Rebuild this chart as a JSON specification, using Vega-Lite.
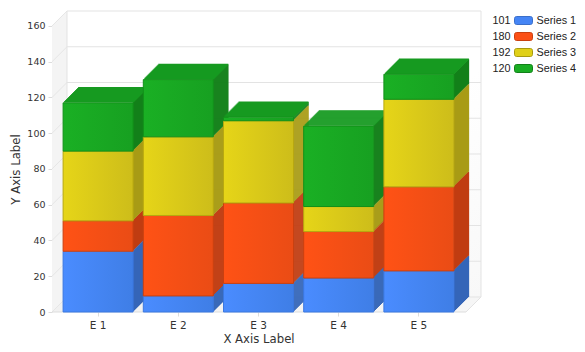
{"$schema":"https://vega.github.io/schema/vega-lite/v6.json","background":"white","padding":{"left":10,"top":10,"right":0,"bottom":0},"bounds":"flush","spacing":13,"resolve":{"scale":{"color":"independent","stroke":"independent","x":"independent","y":"independent"}},"config":{"view":{"stroke":null}},"datasets":{"bars":[
{"cat":"E 1","series":"Series 1","value":34},{"cat":"E 1","series":"Series 2","value":17},{"cat":"E 1","series":"Series 3","value":39},{"cat":"E 1","series":"Series 4","value":27},
{"cat":"E 2","series":"Series 1","value":9},{"cat":"E 2","series":"Series 2","value":45},{"cat":"E 2","series":"Series 3","value":44},{"cat":"E 2","series":"Series 4","value":32},
{"cat":"E 3","series":"Series 1","value":16},{"cat":"E 3","series":"Series 2","value":45},{"cat":"E 3","series":"Series 3","value":46},{"cat":"E 3","series":"Series 4","value":2},
{"cat":"E 4","series":"Series 1","value":19},{"cat":"E 4","series":"Series 2","value":26},{"cat":"E 4","series":"Series 3","value":14},{"cat":"E 4","series":"Series 4","value":45},
{"cat":"E 5","series":"Series 1","value":23},{"cat":"E 5","series":"Series 2","value":47},{"cat":"E 5","series":"Series 3","value":49},{"cat":"E 5","series":"Series 4","value":14}],
"grid":[{"tick":0,"back":8.39},{"tick":20,"back":28.39},{"tick":40,"back":48.39},{"tick":60,"back":68.39},{"tick":80,"back":88.39},{"tick":100,"back":108.39},{"tick":120,"back":128.39},{"tick":140,"back":148.39},{"tick":160,"back":168.39}]},
"hconcat":[{"width":429,"height":301,"resolve":{"scale":{"x":"independent"},"axis":{"y":"independent"}},"layer":[
{"resolve":{"axis":{"y":"independent"}},"layer":[
{"data":{"values":[{"d":0,"low":0,"high":160},{"d":15,"low":8.39,"high":168.39}]},"mark":{"type":"area","color":"#f4f4f4"},"encoding":{"x":{"field":"d","type":"quantitative","scale":{"domain":[0,429],"range":[0,429],"nice":false,"zero":false},"axis":null},"y":{"field":"low","type":"quantitative","scale":{"domain":[0,168.39],"nice":false},"axis":{"title":"Y Axis Label","titleFont":"DejaVu Sans","titleFontSize":11.7,"titleFontWeight":"normal","titleColor":"#333333","titleX":-31,"titleY":158,"values":[0,20,40,60,80,100,120,140,160],"labelFont":"DejaVu Sans","labelFontSize":9.5,"labelColor":"#333333","labelPadding":3,"tickColor":"#dddddd","tickSize":4,"domain":false,"grid":false}},"y2":{"field":"high"}}},
{"data":{"values":[{"b":0,"l":0,"r":414},{"b":8.39,"l":15,"r":429}]},"mark":{"type":"area","orient":"horizontal","color":{"x1":0,"x2":1,"y1":0,"y2":0,"gradient":"linear","stops":[{"offset":0,"color":"#f1f1f1"},{"offset":1,"color":"#f6f6f6"}]}},"encoding":{"y":{"field":"b","type":"quantitative","axis":null},"x":{"field":"l","type":"quantitative","axis":null},"x2":{"field":"r"}}},
{"data":{"values":[{"a":15,"b":429}]},"mark":{"type":"rect","color":{"x1":0,"x2":1,"y1":0,"y2":1,"gradient":"linear","stops":[{"offset":0,"color":"#ffffff"},{"offset":0.6,"color":"#ffffff"},{"offset":1,"color":"#f8f8f8"}]}},"encoding":{"x":{"field":"a","type":"quantitative","axis":null},"x2":{"field":"b"},"y":{"datum":8.39,"type":"quantitative","axis":null},"y2":{"datum":168.39}}},
{"data":{"name":"grid"},"mark":{"type":"rule","color":"#e3e3e3"},"encoding":{"x":{"datum":15,"type":"quantitative","axis":null},"x2":{"datum":429},"y":{"field":"back","type":"quantitative","axis":null}}},
{"data":{"name":"grid"},"mark":{"type":"rule","color":"#e6e6e6"},"encoding":{"x":{"datum":0,"type":"quantitative","axis":null},"x2":{"datum":15},"y":{"field":"tick","type":"quantitative","axis":null},"y2":{"field":"back"}}},
{"data":{"values":[{"a":15},{"a":429}]},"mark":{"type":"rule","color":"#e3e3e3"},"encoding":{"x":{"field":"a","type":"quantitative","axis":null},"y":{"datum":8.39,"type":"quantitative","axis":null},"y2":{"datum":168.39}}},
{"data":{"values":[{"a":414,"b":429,"u":0,"v":8.39}]},"mark":{"type":"rule","color":"#e3e3e3"},"encoding":{"x":{"field":"a","type":"quantitative","axis":null},"x2":{"field":"b"},"y":{"field":"u","type":"quantitative","axis":null},"y2":{"field":"v"}}},
{"data":{"values":[{"a":0,"b":414}]},"mark":{"type":"rule","color":"#dddddd"},"encoding":{"x":{"field":"a","type":"quantitative","axis":null},"x2":{"field":"b"},"y":{"datum":0,"type":"quantitative","axis":null}}}
]},
{"data":{"name":"bars"},"transform":[{"stack":"value","groupby":["cat"],"sort":[{"field":"series"}],"as":["y0","y1"]}],
"encoding":{"x":{"field":"cat","type":"nominal","sort":null,"scale":{"domain":["E 1","E 2","E 3","E 4","E 5"],"range":[6,407],"paddingInner":0,"paddingOuter":0},"axis":{"title":"X Axis Label","titleFont":"DejaVu Sans","titleFontSize":11.7,"titleFontWeight":"normal","titleColor":"#333333","titlePadding":3,"labelAngle":0,"labelFont":"DejaVu Sans","labelFontSize":10.5,"labelColor":"#333333","labelPadding":4,"tickColor":"#dddddd","tickSize":4,"domain":false,"grid":false}},"y":{"field":"y0","type":"quantitative","axis":null},"y2":{"field":"y1"}},
"layer":[
{"data":{"values":[{"cat":"E 1"},{"cat":"E 2"},{"cat":"E 3"},{"cat":"E 4"},{"cat":"E 5"}]},"transform":[],"mark":{"type":"rule","color":"#e3e3e3","xOffset":15,"x2Offset":15},"encoding":{"y":{"datum":8.39,"type":"quantitative","axis":null},"y2":{"datum":168.39}}},
{"layer":[
{"mark":{"type":"bar","width":1.5,"xOffset":35.5,"yOffset":-1,"y2Offset":-1}},{"mark":{"type":"bar","width":1.5,"xOffset":36.5,"yOffset":-2,"y2Offset":-2}},{"mark":{"type":"bar","width":1.5,"xOffset":37.5,"yOffset":-3,"y2Offset":-3}},{"mark":{"type":"bar","width":1.5,"xOffset":38.5,"yOffset":-4,"y2Offset":-4}},{"mark":{"type":"bar","width":1.5,"xOffset":39.5,"yOffset":-5,"y2Offset":-5}},{"mark":{"type":"bar","width":1.5,"xOffset":40.5,"yOffset":-6,"y2Offset":-6}},{"mark":{"type":"bar","width":1.5,"xOffset":41.5,"yOffset":-7,"y2Offset":-7}},{"mark":{"type":"bar","width":1.5,"xOffset":42.5,"yOffset":-8,"y2Offset":-8}},{"mark":{"type":"bar","width":1.5,"xOffset":43.5,"yOffset":-9,"y2Offset":-9}},{"mark":{"type":"bar","width":1.5,"xOffset":44.5,"yOffset":-10,"y2Offset":-10}},{"mark":{"type":"bar","width":1.5,"xOffset":45.5,"yOffset":-11,"y2Offset":-11}},{"mark":{"type":"bar","width":1.5,"xOffset":46.5,"yOffset":-12,"y2Offset":-12}},{"mark":{"type":"bar","width":1.5,"xOffset":47.5,"yOffset":-13,"y2Offset":-13}},{"mark":{"type":"bar","width":1.5,"xOffset":48.5,"yOffset":-14,"y2Offset":-14}},{"mark":{"type":"bar","width":1.5,"xOffset":49.5,"yOffset":-15,"y2Offset":-15}}
],"encoding":{"color":{"field":"series","type":"nominal","legend":null,"scale":{"domain":["Series 1","Series 2","Series 3","Series 4"],"range":["#3566b8","#c03d12","#a89c16","#13801a"]}}}},
{"transform":[{"filter":"datum.series === 'Series 4'"}],"encoding":{"y":{"field":"y1","type":"quantitative","axis":null},"y2":null},"layer":[
{"mark":{"type":"tick","size":70,"thickness":1.5,"color":"#169a20","opacity":1,"xOffset":1,"yOffset":-1}},{"mark":{"type":"tick","size":70,"thickness":1.5,"color":"#169a20","opacity":1,"xOffset":2,"yOffset":-2}},{"mark":{"type":"tick","size":70,"thickness":1.5,"color":"#169a20","opacity":1,"xOffset":3,"yOffset":-3}},{"mark":{"type":"tick","size":70,"thickness":1.5,"color":"#169a20","opacity":1,"xOffset":4,"yOffset":-4}},{"mark":{"type":"tick","size":70,"thickness":1.5,"color":"#169a20","opacity":1,"xOffset":5,"yOffset":-5}},{"mark":{"type":"tick","size":70,"thickness":1.5,"color":"#169a20","opacity":1,"xOffset":6,"yOffset":-6}},{"mark":{"type":"tick","size":70,"thickness":1.5,"color":"#169a20","opacity":1,"xOffset":7,"yOffset":-7}},{"mark":{"type":"tick","size":70,"thickness":1.5,"color":"#169a20","opacity":1,"xOffset":8,"yOffset":-8}},{"mark":{"type":"tick","size":70,"thickness":1.5,"color":"#169a20","opacity":1,"xOffset":9,"yOffset":-9}},{"mark":{"type":"tick","size":70,"thickness":1.5,"color":"#169a20","opacity":1,"xOffset":10,"yOffset":-10}},{"mark":{"type":"tick","size":70,"thickness":1.5,"color":"#169a20","opacity":1,"xOffset":11,"yOffset":-11}},{"mark":{"type":"tick","size":70,"thickness":1.5,"color":"#169a20","opacity":1,"xOffset":12,"yOffset":-12}},{"mark":{"type":"tick","size":70,"thickness":1.5,"color":"#169a20","opacity":1,"xOffset":13,"yOffset":-13}},{"mark":{"type":"tick","size":70,"thickness":1.5,"color":"#169a20","opacity":1,"xOffset":14,"yOffset":-14}},{"mark":{"type":"tick","size":70,"thickness":1.5,"color":"#169a20","opacity":1,"xOffset":15,"yOffset":-15}}
]},
{"transform":[{"filter":"datum.series === 'Series 1'"}],"mark":{"type":"bar","width":70,"stroke":"#3b78e0","strokeWidth":1,"color":{"x1":0,"x2":1,"y1":0,"y2":0,"gradient":"linear","stops":[{"offset":0,"color":"#4a8cff"},{"offset":1,"color":"#3f7ee6"}]}}},
{"transform":[{"filter":"datum.series === 'Series 2'"}],"mark":{"type":"bar","width":70,"stroke":"#c94010","strokeWidth":1,"color":{"x1":0,"x2":1,"y1":0,"y2":0,"gradient":"linear","stops":[{"offset":0,"color":"#ff5215"},{"offset":1,"color":"#ea4c15"}]}}},
{"transform":[{"filter":"datum.series === 'Series 3'"}],"mark":{"type":"bar","width":70,"stroke":"#b8a810","strokeWidth":1,"color":{"x1":0,"x2":1,"y1":0,"y2":0,"gradient":"linear","stops":[{"offset":0,"color":"#e6d518"},{"offset":1,"color":"#cdbd1a"}]}}},
{"transform":[{"filter":"datum.series === 'Series 4'"}],"mark":{"type":"bar","width":70,"stroke":"#129019","strokeWidth":1,"color":{"x1":0,"x2":1,"y1":0,"y2":0,"gradient":"linear","stops":[{"offset":0,"color":"#1ab024"},{"offset":1,"color":"#17a021"}]}}}
]}
]},
{"width":85,"height":70,"data":{"name":"bars"},"transform":[{"aggregate":[{"op":"sum","field":"value","as":"total"}],"groupby":["series"]}],
"encoding":{"y":{"field":"series","type":"nominal","axis":null,"scale":{"type":"point","padding":0,"domain":["Series 1","Series 2","Series 3","Series 4"],"range":[9.5,57.5]}}},
"layer":[
{"mark":{"type":"text","align":"right","font":"Liberation Sans","fontSize":10.8,"color":"#222222"},"encoding":{"x":{"datum":"total","type":"nominal","axis":null,"scale":{"type":"point","padding":0,"domain":["total","swatch","name"],"range":[16.5,42.5]}},"text":{"field":"total","type":"quantitative"}}},
{"mark":{"type":"bar","width":18,"height":8,"cornerRadius":2,"strokeWidth":1},"encoding":{"x":{"datum":"swatch","type":"nominal","axis":null},"color":{"field":"series","type":"nominal","legend":null,"scale":{"domain":["Series 1","Series 2","Series 3","Series 4"],"range":["#4585f5","#fb5016","#e0d018","#19ad23"]}},"stroke":{"field":"series","type":"nominal","legend":null,"scale":{"domain":["Series 1","Series 2","Series 3","Series 4"],"range":["#3b6fc9","#c94010","#a89a10","#128019"]}}}},
{"mark":{"type":"text","align":"left","font":"Liberation Sans","fontSize":10.8,"color":"#222222"},"encoding":{"x":{"datum":"name","type":"nominal","axis":null},"text":{"field":"series","type":"nominal"}}}
]}
]}
